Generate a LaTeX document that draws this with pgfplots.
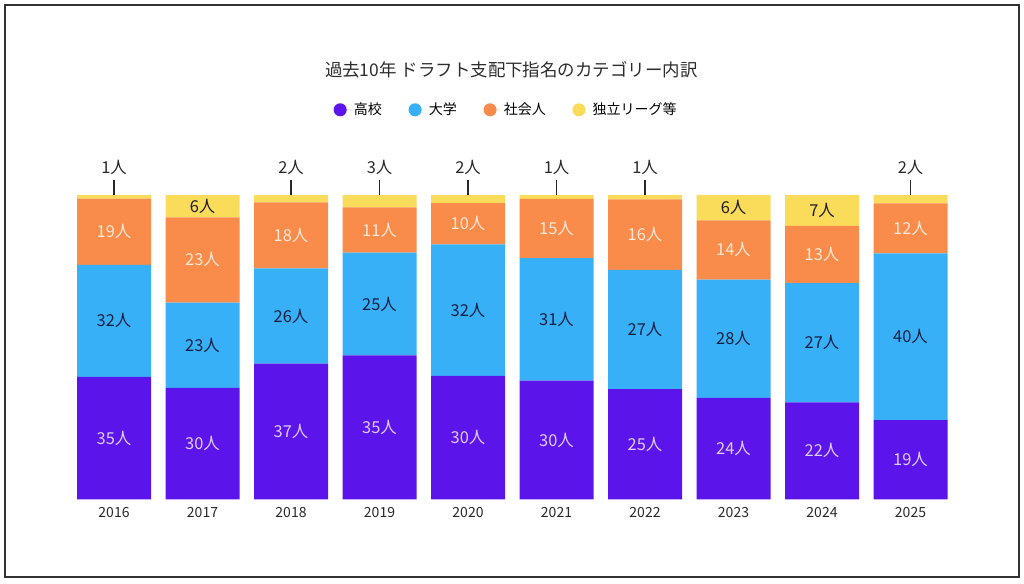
\documentclass[border=0pt]{standalone}
\usepackage{fontspec}
\setmainfont{Noto Sans CJK JP}
\usepackage{pgfplots}
\pgfplotsset{compat=1.18}
\usepackage{pgfplotstable}

\definecolor{cHS}{RGB}{91,20,234}
\definecolor{cUN}{RGB}{56,176,248}
\definecolor{cCO}{RGB}{249,140,74}
\definecolor{cIN}{RGB}{250,219,90}
\definecolor{tHS}{RGB}{222,205,250}
\definecolor{tUN}{RGB}{22,32,66}
\definecolor{tCO}{RGB}{255,232,215}
\definecolor{tIN}{RGB}{30,30,30}
\definecolor{tTop}{RGB}{40,40,40}

\pgfplotstableread{
year hs un co ind
2016 35 32 19 1
2017 30 23 23 6
2018 37 26 18 2
2019 35 25 11 3
2020 30 32 10 2
2021 30 31 15 1
2022 25 27 16 1
2023 24 28 14 6
2024 22 27 13 7
2025 19 40 12 2
}\drafts

\newcommand\tot{(\thisrow{hs}+\thisrow{un}+\thisrow{co}+\thisrow{ind})}

\pgfplotsset{
  base/.style={
    at={(52.3125pt,62.775pt)}, anchor=south west,
    scale only axis, width=663.75pt, height=228.225pt,
    xmin=2015.5, xmax=2025.5, ymin=0, ymax=100,
    axis line style={draw=none}, ytick=\empty, major tick length=0pt,
    clip=false,
  },
  lab/.style={draw=none, nodes near coords={\pgfplotspointmeta 人},
    point meta=explicit symbolic,
    every node near coord/.style={anchor=center, text=#1,
      font=\fontsize{12.3}{14}\selectfont}},
}

\begin{document}
\begin{tikzpicture}
\path (0,0) rectangle (768pt,437.25pt);
\draw[line width=1.5pt, color={rgb,255:red,50;green,50;blue,50}] (3.75pt,4.5pt) rectangle (764.25pt,433.5pt);
\node[font=\fontsize{13.1}{16}\selectfont, text={rgb,255:red,45;green,45;blue,45}] at (383.5pt,384.75pt) {過去10年 ドラフト支配下指名のカテゴリー内訳};

\begin{axis}[base, ybar stacked, bar width=55.5pt,
  xtick=data,
  xticklabels={2016,2017,2018,2019,2020,2021,2022,2023,2024,2025},
  xticklabel style={anchor=center, yshift=-10pt, font=\fontsize{10.5}{12}\selectfont, text={rgb,255:red,40;green,40;blue,40}},
  legend style={at={(0.4935,1.28)}, anchor=center, draw=none, fill=none,
    legend columns=4, font=\fontsize{10.5}{12}\selectfont,
    /tikz/every even column/.append style={column sep=18pt}},
  legend image code/.code={\fill[#1] (0pt,0pt) circle (4.9pt); \path (-4.9pt,0pt) -- (8.3pt,0pt);},
]
\addplot[fill=cHS, draw=none] table[x=year, y expr=100*\thisrow{hs}/\tot]{\drafts};
\addplot[fill=cUN, draw=none] table[x=year, y expr=100*\thisrow{un}/\tot]{\drafts};
\addplot[fill=cCO, draw=none] table[x=year, y expr=100*\thisrow{co}/\tot]{\drafts};
\addplot[fill=cIN, draw=none] table[x=year, y expr=100*\thisrow{ind}/\tot]{\drafts};
\legend{高校,大学,社会人,独立リーグ等}
\end{axis}

\begin{axis}[base, hide axis]
\addplot[lab=tHS] table[x=year, y expr=50*\thisrow{hs}/\tot, meta=hs]{\drafts};
\addplot[lab=tUN] table[x=year, y expr=100*(\thisrow{hs}+\thisrow{un}/2)/\tot, meta=un]{\drafts};
\addplot[lab=tCO] table[x=year, y expr=100*(\thisrow{hs}+\thisrow{un}+\thisrow{co}/2)/\tot, meta=co]{\drafts};
\addplot[lab=tIN, restrict expr to domain={\thisrow{ind}}{4:100}] table[x=year, y expr=100*(\tot-\thisrow{ind}/2)/\tot, meta=ind]{\drafts};
\addplot[draw=none, nodes near coords={\pgfplotspointmeta 人},
    point meta=explicit symbolic,
    every node near coord/.style={anchor=center, text=tTop, yshift=21pt,
      font=\fontsize{12.3}{14}\selectfont},
    restrict expr to domain={\thisrow{ind}}{0:4},
    error bars/y dir=plus, error bars/y explicit, error bars/error mark=none,
    error bars/error bar style={draw=tTop, line width=0.9pt}]
  table[x=year, y expr=100, y error expr=4.93, meta=ind]{\drafts};
\end{axis}
\end{tikzpicture}
\end{document}
